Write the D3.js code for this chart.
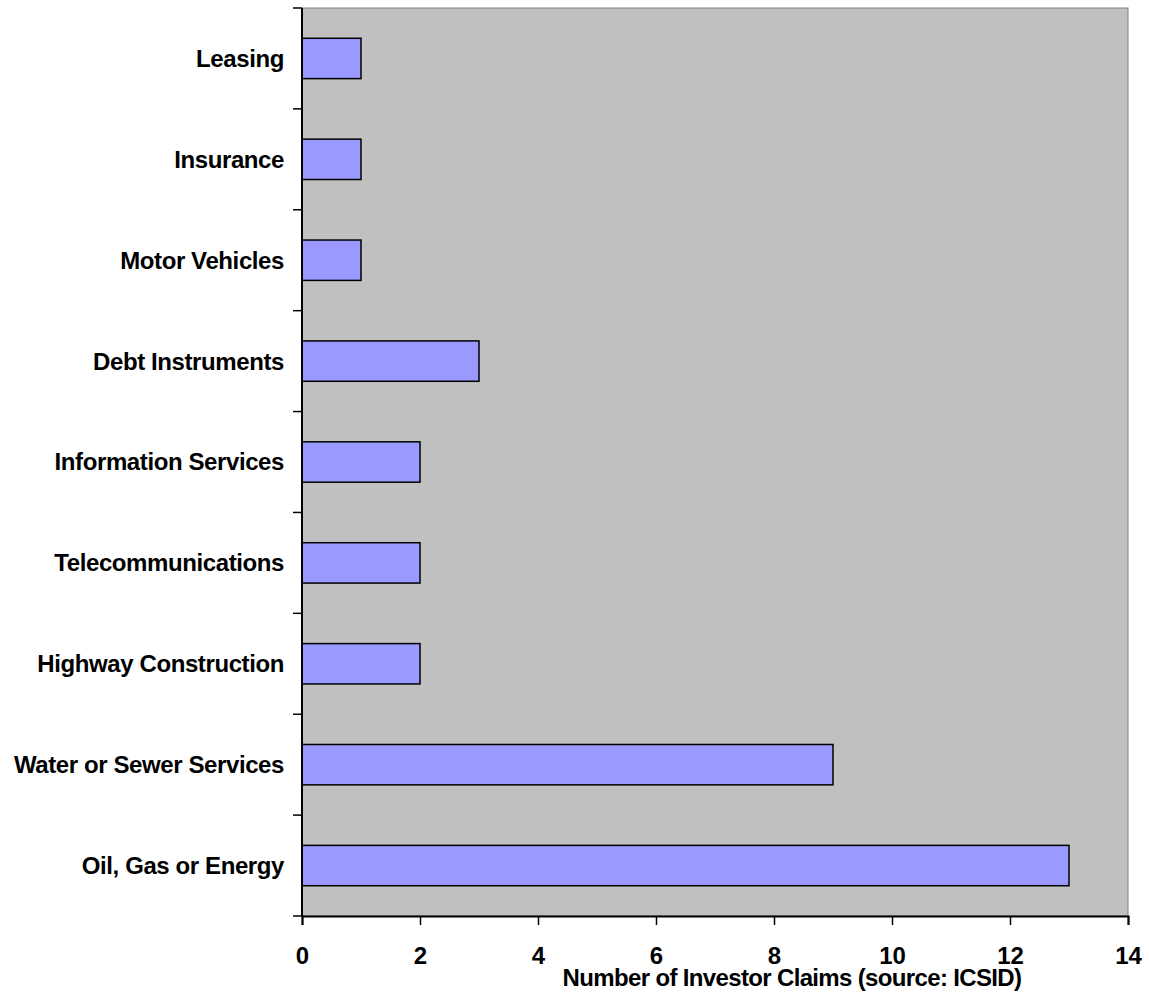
<!DOCTYPE html>
<html>
<head>
<meta charset="utf-8">
<script src="https://cdn.jsdelivr.net/npm/d3@7"></script>
<style>
  body { margin: 0; background: #fff; }
  text { font-family: "Liberation Sans", Arial, sans-serif; font-weight: bold; fill: #000; }
</style>
</head>
<body>
<div id="chart"></div>
<script>
// categories from top to bottom
const sectors = ['Leasing', 'Insurance', 'Motor Vehicles', 'Debt Instruments', 'Information Services',
  'Telecommunications', 'Highway Construction', 'Water or Sewer Services', 'Oil, Gas or Energy'];
const claims = [1, 1, 1, 3, 2, 2, 2, 9, 13];
const xTicks = [0, 2, 4, 6, 8, 10, 12, 14];

const width = 1149, height = 993;
const margin = { top: 8, right: 21, bottom: 77, left: 302 };

const svg = d3.select('#chart').append('svg')
    .attr('width', width)
    .attr('height', height);

const x = d3.scaleLinear()
    .domain([0, 14])
    .range([margin.left, width - margin.right]);

const y = d3.scaleBand()
    .domain(sectors)
    .range([margin.top, height - margin.bottom])
    .paddingInner(0.6)
    .paddingOuter(0.3);

// plot area
svg.append('rect')
    .attr('x', margin.left)
    .attr('y', margin.top)
    .attr('width', width - margin.right - margin.left)
    .attr('height', height - margin.bottom - margin.top)
    .attr('fill', '#c0c0c0')
    .attr('stroke', '#808080')
    .attr('stroke-width', 1);

// bars
svg.selectAll('.bar')
    .data(sectors)
    .enter().append('rect')
    .attr('class', 'bar')
    .attr('x', x(0))
    .attr('y', d => y(d))
    .attr('width', (d, i) => x(claims[i]) - x(0))
    .attr('height', y.bandwidth())
    .attr('fill', '#9999ff')
    .attr('stroke', '#000')
    .attr('stroke-width', 1.5);

// y axis with ticks between categories
const yLine = svg.append('g');
yLine.append('line')
    .attr('x1', margin.left).attr('x2', margin.left)
    .attr('y1', margin.top).attr('y2', height - margin.bottom)
    .attr('stroke', '#000').attr('stroke-width', 2);
const bounds = d3.range(sectors.length + 1).map(i => margin.top + i * y.step());
yLine.selectAll('.ytick')
    .data(bounds)
    .enter().append('line')
    .attr('x1', margin.left - 9).attr('x2', margin.left)
    .attr('y1', d => d).attr('y2', d => d)
    .attr('stroke', '#000').attr('stroke-width', 1.5);

svg.selectAll('.ylabel')
    .data(sectors)
    .enter().append('text')
    .attr('class', 'ylabel')
    .attr('x', margin.left - 18)
    .attr('y', d => y(d) + y.bandwidth() / 2)
    .attr('dy', '0.35em')
    .attr('text-anchor', 'end')
    .attr('font-size', 24)
    .attr('letter-spacing', -0.4)
    .text(d => d);

// x axis
const xAxis = svg.append('g')
    .attr('transform', `translate(0,${height - margin.bottom})`)
    .call(d3.axisBottom(x).tickValues(xTicks).tickSize(9).tickPadding(22).tickFormat(d3.format('d')));
xAxis.select('.domain').attr('stroke', '#000').attr('stroke-width', 2);
xAxis.selectAll('.tick line').attr('stroke', '#000').attr('stroke-width', 1.5);
xAxis.selectAll('.tick text')
    .attr('font-size', 24)
    .attr('font-family', '"Liberation Sans", Arial, sans-serif')
    .attr('font-weight', 'bold')
    .attr('fill', '#000');

svg.append('text')
    .attr('x', 792)
    .attr('y', 986)
    .attr('text-anchor', 'middle')
    .attr('font-size', 24)
    .attr('letter-spacing', -0.65)
    .text('Number of Investor Claims (source: ICSID)');
</script>
</body>
</html>
